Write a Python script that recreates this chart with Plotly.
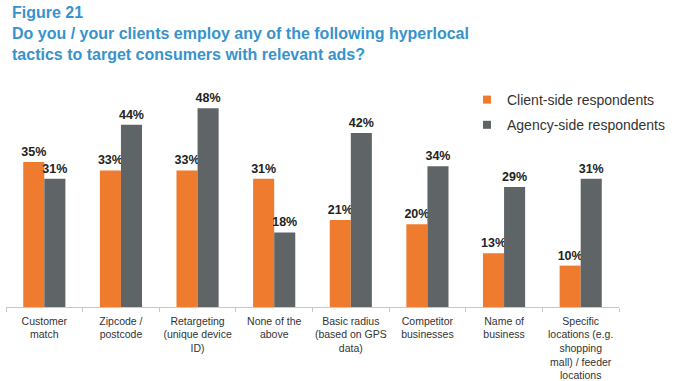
import plotly.graph_objects as go

categories = [
    "Customer<br>match",
    "Zipcode /<br>postcode",
    "Retargeting<br>(unique device<br>ID)",
    "None of the<br>above",
    "Basic radius<br>(based on GPS<br>data)",
    "Competitor<br>businesses",
    "Name of<br>business",
    "Specific<br>locations (e.g.<br>shopping<br>mall) / feeder<br>locations",
]
client_side = [35, 33, 33, 31, 21, 20, 13, 10]
agency_side = [31, 44, 48, 18, 42, 34, 29, 31]
series_names = ["Client-side respondents", "Agency-side respondents"]
title_lines = [
    "Figure 21",
    "Do you / your clients employ any of the following hyperlocal",
    "tactics to target consumers with relevant ads?",
]

ORANGE = "#ef7b2e"
GRAY = "#5f6466"
BLUE = "#3893cc"
FONT = "Liberation Sans, Arial, sans-serif"

ML, MR, MT, MB = 6, 59, 100, 74
W, H = 678, 381
PW = W - ML - MR
PH = H - MT - MB

fig = go.Figure()
for vals, name, col in [(client_side, series_names[0], ORANGE), (agency_side, series_names[1], GRAY)]:
    fig.add_trace(go.Bar(
        x=categories, y=vals, name=name, marker=dict(color=col, line=dict(width=0)),
        text=[f"<b>{v}%</b>" for v in vals], textposition="outside", cliponaxis=False,
        constraintext="none",
        textfont=dict(family=FONT, size=12.5, color="#222222"),
        showlegend=False,
    ))

# legend entries with small square markers
for i, (name, col) in enumerate([(series_names[0], ORANGE), (series_names[1], GRAY)]):
    fig.add_trace(go.Scatter(
        x=[None], y=[None], mode="markers", name=name,
        marker=dict(symbol="square", size=8, color=col),
        legendgroup=f"g{i}", showlegend=True,
    ))

fig.add_annotation(
    text="<b>" + "<br>".join(title_lines) + "</b>",
    xref="paper", yref="paper", x=(10 - ML) / PW, y=1 + (MT - 2) / PH,
    xanchor="left", yanchor="top", align="left", showarrow=False,
    font=dict(family=FONT, size=16, color=BLUE),
)

fig.update_layout(
    width=W, height=H,
    margin=dict(l=ML, r=MR, t=MT, b=MB, autoexpand=False),
    paper_bgcolor="white", plot_bgcolor="white",
    barmode="group", bargap=0.45, bargroupgap=0,
    font=dict(family=FONT, color="#333333"),
    legend=dict(
        x=(467 - ML) / PW, xanchor="left", y=1 + (MT - 84) / PH, yanchor="top",
        font=dict(family=FONT, size=14, color="#333333"),
        bgcolor="rgba(0,0,0,0)", itemwidth=30,
        traceorder="grouped", tracegroupgap=4,
    ),
    xaxis=dict(
        automargin=False,
        showline=True, linecolor="#c8c8c8", linewidth=1,
        ticks="outside", tickson="boundaries", ticklen=4, tickcolor="#c8c8c8",
        tickangle=0, ticklabelstandoff=4,
        tickfont=dict(family=FONT, size=10.5, color="#333333"),
        showgrid=False,
    ),
    yaxis=dict(automargin=False, range=[0, 50], visible=False, showgrid=False, zeroline=False),
)

fig.write_html(
    "out.html",
    config={"displayModeBar": False},
    post_script="document.body.style.margin='0px';document.body.style.overflow='hidden';",
)
